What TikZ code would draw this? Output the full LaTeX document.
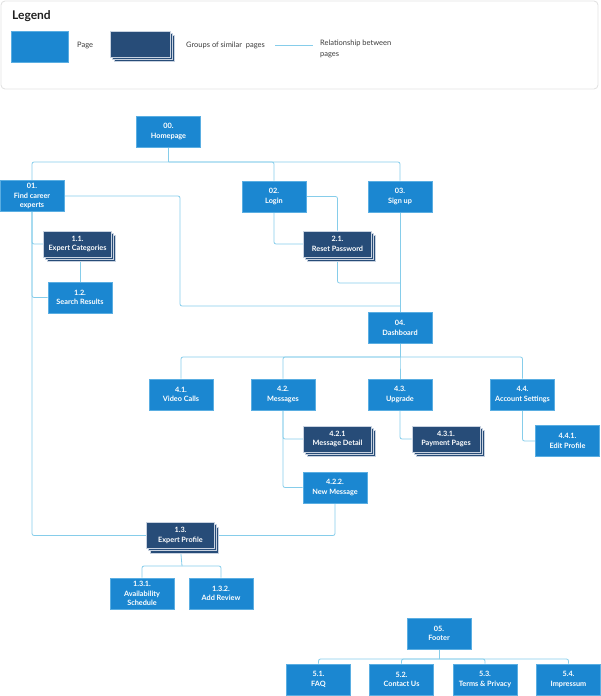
\documentclass[tikz,border=0pt]{standalone}
\usepackage{fontspec}
\setmainfont{Lato}
\usetikzlibrary{shadows,backgrounds}
\definecolor{pagefill}{HTML}{1B87D1}
\definecolor{pageedge}{HTML}{5AAEE2}
\definecolor{grpfill}{HTML}{274C78}
\definecolor{grpedge}{HTML}{C8D2E0}
\definecolor{linkc}{HTML}{86CDEA}
\definecolor{legtext}{HTML}{3A3A3A}
\definecolor{legframe}{HTML}{E2E2E2}

\begin{document}
\begin{tikzpicture}[x=1pt,y=-1pt,
  pagebox/.style={rectangle, fill=pagefill, draw=pageedge, line width=0.6pt,
    minimum width=64pt, minimum height=31pt, inner sep=1pt, text=white,
    align=center, font=\bfseries\fontsize{7.3}{9.5}\selectfont},
  grpbox/.style={pagebox, fill=grpfill, draw=grpedge, minimum width=68pt,
    minimum height=26pt,
    copy shadow={shadow xshift=4pt, shadow yshift=-4.5pt},
    copy shadow={shadow xshift=2pt, shadow yshift=-2.2pt}},
  legtxt/.style={text=legtext, inner sep=0pt, font=\fontsize{7.5}{11}\selectfont},
  link/.style={draw=linkc, line width=0.8pt, rounded corners=2pt},
  ]
\useasboundingbox (0,0) rectangle (600,696);

% legend frame and samples
\draw[draw=legframe, line width=0.9pt, rounded corners=4pt] (1,1) rectangle (598,89);
\node[anchor=west, inner sep=0pt, text=black!88,
  font=\bfseries\fontsize{12}{14}\selectfont] (legtitle) at (12,16) {Legend};
\node[pagebox, minimum width=57pt, minimum height=31pt] (legpage) at (40,46.5) {};
\node[legtxt, anchor=west] (legpagetxt) at (77,45.5) {Page};
\node[grpbox, minimum width=60pt, minimum height=26pt] (leggrp) at (140,44) {};
\node[legtxt, anchor=west] (leggrptxt) at (186,45.5) {Groups of similar\ \ pages};
\coordinate (legA) at (275,45);
\coordinate (legB) at (313,45);
\draw[link] (legA) -- (legB);
\node[legtxt, anchor=north west, align=left] (leglinktxt) at (320,40)
  {Relationship between\\pages};

% pages
\node[pagebox] (home) at (168.5,131.5) {00.\\Homepage};
\node[pagebox] (find) at (32,196) {01.\\Find career\\experts};
\node[pagebox] (login) at (274,196.5) {02.\\Login};
\node[pagebox] (signup) at (400,196.5) {03.\\Sign up};
\node[grpbox] (cat) at (77.5,244) {1.1.\\Expert Categories};
\node[pagebox] (search) at (80,297.5) {1.2.\\Search Results};
\node[grpbox] (reset) at (337.5,244) {2.1.\\Reset Password};
\node[pagebox] (dash) at (400,328) {04.\\Dashboard};
\node[pagebox] (video) at (181,394.5) {4.1.\\Video Calls};
\node[pagebox] (msg) at (283,394.5) {4.2.\\Messages};
\node[pagebox] (upg) at (400,394.5) {4.3.\\Upgrade};
\node[pagebox] (acc) at (522.5,394.5) {4.4.\\Account Settings};
\node[grpbox] (mdet) at (337.5,439) {4.2.1\\Message Detail};
\node[pagebox] (newmsg) at (335,487.5) {4.2.2.\\New Message};
\node[grpbox] (pay) at (446,439) {4.3.1.\\Payment Pages};
\node[pagebox] (edit) at (567.5,441) {4.4.1.\\Edit Profile};
\node[grpbox] (profile) at (180.5,535.5) {1.3.\\Expert Profile};
\node[pagebox] (avail) at (142,593.5) {1.3.1.\\Availability\\Schedule};
\node[pagebox] (review) at (221,593.5) {1.3.2.\\Add Review};
\node[pagebox] (footer) at (439,633.5) {05.\\Footer};
\node[pagebox] (faq) at (318.5,679.5) {5.1.\\FAQ};
\node[pagebox] (contact) at (401.5,679.5) {5.2.\\Contact Us};
\node[pagebox] (terms) at (485,679.5) {5.3.\\Terms \& Privacy};
\node[pagebox] (impr) at (568.5,679.5) {5.4.\\Impressum};

% bus points
\coordinate (hbus) at (168.5,162);
\coordinate (k1) at (180,306);
\coordinate (j1) at (400,306);
\coordinate (j2) at (400,283);
\coordinate (dbus) at (400,357);
\coordinate (pbus) at (182,566);
\coordinate (fbus) at (439,659);

% relationships
\begin{scope}[on background layer]
  \draw[link] (home.south) -- (hbus);
  \draw[link] (hbus) -| (find.north);
  \draw[link] (hbus) -| (login.north);
  \draw[link] (hbus) -| (signup.north);

  \draw[link] (find.east) -| (k1) -- (j1);
  \draw[link] (find.south) |- (cat.west);
  \draw[link] (find.south) |- (search.west);
  \draw[link] (find.south) |- (profile.west);
  \draw[link] (search.north) -- (search.north |- cat.south);

  \draw[link] (login.south) |- (reset.west);
  \draw[link] (login.east) -| (reset.north);
  \draw[link] (reset.south) |- (j2);
  \draw[link] (signup.south) -- (dash.north);

  \draw[link] (dash.south) -- (dbus);
  \draw[link] (dbus) -| (video.north);
  \draw[link] (dbus) -| (msg.north);
  \draw[link] (dbus) -| (upg.north);
  \draw[link] (dbus) -| (acc.north);

  \draw[link] (msg.south) |- (mdet.west);
  \draw[link] (msg.south) |- (newmsg.west);
  \draw[link] (upg.south) |- (pay.west);
  \draw[link] (acc.south) |- (edit.west);
  \draw[link] (newmsg.south) |- (profile.east);

  \draw[link] (profile.south) -- (pbus);
  \draw[link] (pbus) -| (avail.north);
  \draw[link] (pbus) -| (review.north);

  \draw[link] (footer.south) -- (fbus);
  \draw[link] (fbus) -| (faq.north);
  \draw[link] (fbus) -| (contact.north);
  \draw[link] (fbus) -| (terms.north);
  \draw[link] (fbus) -| (impr.north);
\end{scope}
\end{tikzpicture}
\end{document}
